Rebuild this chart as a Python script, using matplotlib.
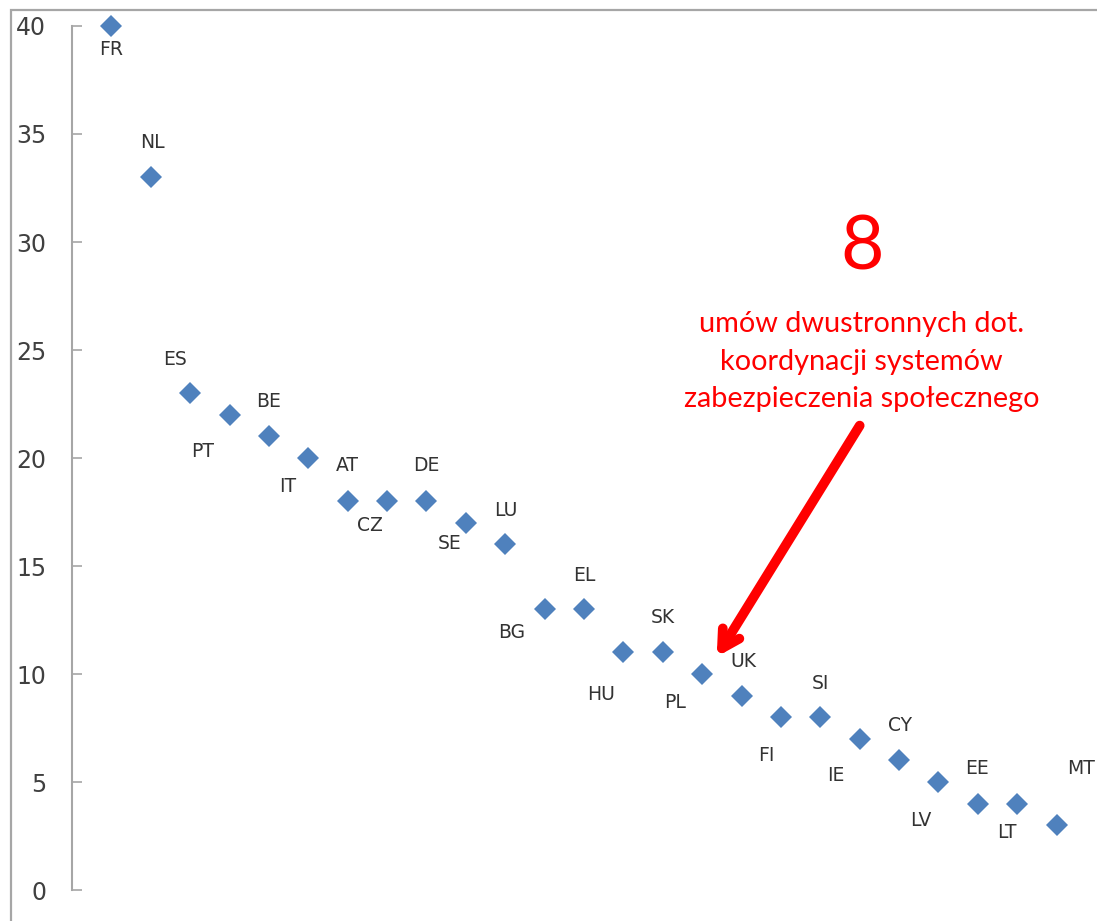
import matplotlib
matplotlib.use("Agg")
import matplotlib.pyplot as plt
from matplotlib.patches import Rectangle

countries = ["FR", "NL", "ES", "PT", "BE", "IT", "AT", "CZ", "DE", "SE", "LU", "BG", "EL",
             "HU", "SK", "PL", "UK", "FI", "SI", "IE", "CY", "LV", "EE", "LT", "MT"]
values = [40, 33, 23, 22, 21, 20, 18, 18, 18, 17, 16, 13, 13,
          11, 11, 10, 9, 8, 8, 7, 6, 5, 4, 4, 3]
yticks = [0, 5, 10, 15, 20, 25, 30, 35, 40]
big_number = "8"
note_lines = ["umów dwustronnych dot.", "koordynacji systemów", "zabezpieczenia społecznego"]

# label offsets in pixels (dx right, dy down) relative to marker
label_offsets_px = [(0, 24), (2, -35), (-15, -34), (-27, 37), (0, -35), (-21, 29), (0, -36),
                    (-17, 24), (0, -36), (-16, 21), (1, -34), (-33, 23), (0, -34), (-22, 42),
                    (0, -35), (-27, 29), (2, -34), (-15, 38), (0, -34), (-24, 37), (1, -35),
                    (-18, 38), (-1, -35), (-10, 29), (24, -57)]

W, H = 1097, 921
fig = plt.figure(figsize=(W / 100, H / 100), dpi=100)
ax = fig.add_axes([72 / W, 1 - 890 / H, (1096 - 72) / W, (890 - 26) / H])

xs = list(range(1, len(countries) + 1))
ax.plot(xs, values, linestyle="none", marker="D", markersize=11.5,
        color="#4F81BD", markeredgewidth=0, clip_on=False, zorder=3)

for x, v, name, (dx, dy) in zip(xs, values, countries, label_offsets_px):
    ax.annotate(name, (x, v), xytext=(dx * 0.72, -dy * 0.72), textcoords="offset points",
                ha="center", va="center", fontsize=13.5, color="#333333",
                family="DejaVu Sans")

ax.set_xlim(0, 26)
ax.set_ylim(0, 40)
ax.set_yticks(yticks)
ax.set_xticks([])
for s in ["top", "right", "bottom"]:
    ax.spines[s].set_visible(False)
ax.spines["left"].set_color("#A6A6A6")
ax.spines["left"].set_linewidth(1.5)
ax.tick_params(axis="y", direction="in", length=7, width=1.2, color="#A6A6A6",
               labelsize=17, labelcolor="#404040", pad=18.5)
for lbl in ax.get_yticklabels():
    lbl.set_family("DejaVu Sans")
ax.patch.set_visible(False)

# figure border
fig.patches.append(Rectangle((11 / W, -0.05), 1.1, 1 - 10 / H + 0.05, transform=fig.transFigure,
                             fill=False, edgecolor="#A6A6A6", linewidth=1.6, zorder=0))

# red annotation
ax.text(20.05, 29.7, big_number, color="#FF0000", fontsize=54, family="Lato",
        ha="center", va="center")
for i, line in enumerate(note_lines):
    ax.text(20.05, 26.2 - i * 1.74, line, color="#FF0000", fontsize=20.8, family="Lato",
            ha="center", va="center")

ax.annotate("", xy=(16.37, 10.8), xytext=(20.0, 21.5),
            arrowprops=dict(arrowstyle="->,head_length=1.25,head_width=0.7", color="#FF0000",
                            lw=7, capstyle="round", joinstyle="round",
                            shrinkA=0, shrinkB=0))

fig.savefig("out.png", dpi=100)
